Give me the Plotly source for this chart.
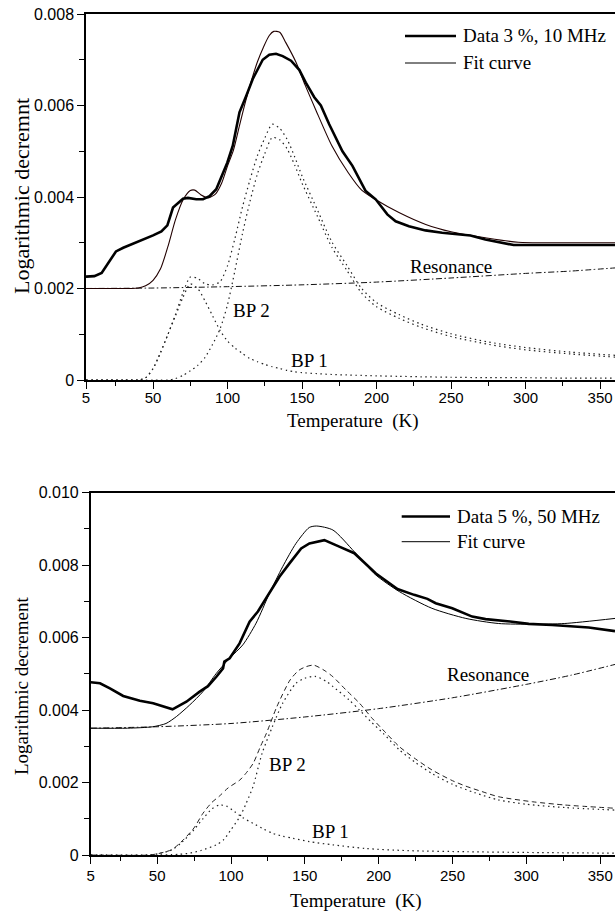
import plotly.graph_objects as go

W, H = 615, 914

# ---------------- top panel: Data 3 %, 10 MHz ----------------
t_data_top = [5, 10.6, 15.5, 19.9, 25.1, 30, 36.6, 45.6, 50, 55.6, 59.6, 63.4, 66.7, 70.1, 73.4,
              79, 83.5, 87.9, 92.4, 96.8, 99.8, 103.5, 108, 112.5, 116.9, 123.6, 128, 132.5, 137,
              142.6, 148.1, 152.5, 158.2, 162.6, 168.2, 177.1, 183.8, 192.7, 199.4, 207.2, 212.8,
              221.7, 232.8, 244, 263, 273, 281.9, 292, 360]
v_data_top = [0.00226, 0.00227, 0.00234, 0.00256, 0.00281, 0.00289, 0.00298, 0.00309, 0.00316, 0.00325,
              0.00338, 0.00377, 0.00387, 0.00396, 0.00398, 0.00395, 0.00395, 0.00402, 0.00417, 0.0045,
              0.00475, 0.00512, 0.00585, 0.00621, 0.00658, 0.007, 0.00711, 0.00713, 0.00708, 0.00698,
              0.00678, 0.0065, 0.00618, 0.006, 0.00559, 0.005, 0.00468, 0.00413, 0.00395, 0.00362,
              0.00347, 0.00336, 0.00327, 0.00322, 0.00316, 0.00307, 0.00301, 0.00295, 0.00295]

t_fit_top = [5, 20, 35, 40, 45, 50, 55, 60, 65, 70, 75, 78, 82, 87, 92, 96, 100, 104, 108, 112, 117,
             120, 124, 128, 131, 135, 139, 146, 152, 159, 170, 181, 190, 199, 215, 233, 250, 273,
             295, 326, 360]
v_fit_top = [0.002, 0.002, 0.002, 0.00201, 0.00206, 0.00218, 0.00243, 0.00292, 0.0035, 0.00393,
             0.00414, 0.00415, 0.00405, 0.00398, 0.00407, 0.0043, 0.00468, 0.00503, 0.00556, 0.00608,
             0.00665, 0.00695, 0.00727, 0.00753, 0.00762, 0.0076, 0.00738, 0.00694, 0.00645, 0.00592,
             0.00512, 0.00453, 0.00415, 0.00395, 0.00366, 0.0034, 0.00324, 0.00311, 0.00301, 0.003,
             0.003]

t_res_top = [5, 50, 100, 150, 200, 250, 300, 330, 360]
v_res_top = [0.002, 0.00201, 0.00204, 0.00208, 0.00214, 0.00223, 0.00233, 0.00238, 0.00245]

t_comp_top = [5, 30, 40, 45, 50, 55, 60, 65, 70, 75, 80, 85, 90, 95, 100, 105, 110, 115, 120, 125,
              130, 135, 140, 145, 150, 160, 170, 180, 190, 200, 215, 230, 250, 275, 300, 330, 360]
v_bp1_top = [0, 0, 0, 0.00005, 0.00025, 0.0006, 0.001, 0.0014, 0.0018, 0.0021, 0.002, 0.00172,
             0.0014, 0.00108, 0.00085, 0.0007, 0.00058, 0.00047, 0.0004, 0.00034, 0.00029, 0.00025,
             0.00021, 0.00018, 0.00016, 0.00014, 0.00012, 0.00011, 0.0001, 0.00009, 0.00008,
             0.00007, 0.00006, 0.00005, 0.00005, 0.00004, 0.00004]
v_bp2_top = [0, 0, 0, 0, 0, 0, 0, 0.00003, 0.0001, 0.0002, 0.00032, 0.0005, 0.00078, 0.00112,
             0.00165, 0.0024, 0.0032, 0.0039, 0.0045, 0.00495, 0.0053, 0.00525, 0.00505, 0.0047,
             0.0043, 0.0036, 0.0029, 0.0024, 0.0019, 0.0016, 0.00135, 0.00115, 0.00095, 0.00078,
             0.00066, 0.00057, 0.0005]
v_sum_top = [0, 0, 0, 0.00005, 0.00025, 0.0006, 0.001, 0.00143, 0.0019, 0.00225, 0.00222, 0.0021,
             0.00208, 0.00215, 0.0025, 0.0031, 0.00378, 0.00437, 0.0049, 0.00529, 0.00559, 0.0055,
             0.00526, 0.00488, 0.00446, 0.00374, 0.00302, 0.00251, 0.002, 0.00169, 0.00143, 0.00122,
             0.00101, 0.00083, 0.00071, 0.00061, 0.00054]

# ---------------- bottom panel: Data 5 %, 50 MHz ----------------
t_data_bot = [5, 11.3, 18, 27, 38.3, 47.3, 60.4, 69.8, 78.8, 84.4, 90.1, 94.6, 95.5, 99.1, 105.8,
              112.6, 118.2, 126.1, 132.8, 139.6, 147.5, 153.1, 163.2, 173.3, 183.5, 198.1, 212.7,
              224, 233, 238.6, 249.8, 263.3, 272.4, 290.3, 301.6, 317.4, 342.2, 360]
v_data_bot = [0.00477, 0.00474, 0.0046, 0.00439, 0.00426, 0.00419, 0.00402, 0.00423, 0.00451, 0.00466,
              0.00492, 0.00515, 0.00534, 0.00543, 0.00584, 0.00644, 0.00672, 0.00722, 0.00768, 0.00805,
              0.00846, 0.0086, 0.00869, 0.00851, 0.00833, 0.00777, 0.00734, 0.00718, 0.00707, 0.00695,
              0.00681, 0.00658, 0.00651, 0.00644, 0.00638, 0.00635, 0.00628, 0.00618]

t_fit_bot = [5, 30, 47, 56, 63, 72, 81, 90, 99, 108, 117, 126, 135, 144, 153, 158, 169, 183.5, 198,
             214, 236, 259, 281, 304, 326, 360]
v_fit_bot = [0.0035, 0.0035, 0.00354, 0.00363, 0.00382, 0.00414, 0.00451, 0.00501, 0.00543, 0.0058,
             0.0064, 0.00722, 0.00796, 0.0086, 0.00904, 0.00908, 0.00897, 0.00837, 0.00773, 0.00727,
             0.00681, 0.00653, 0.00639, 0.00637, 0.00639, 0.00653]

t_res_bot = [5, 50, 100, 150, 200, 250, 300, 330, 360]
v_res_bot = [0.0035, 0.00354, 0.00363, 0.00381, 0.00404, 0.00434, 0.00471, 0.00496, 0.00526]

t_bp1_bot = [5, 45, 52, 60, 67, 75, 81, 87, 92, 97, 101, 108, 115, 122, 128, 135, 142, 153, 169,
             191, 220, 260, 300, 360]
v_bp1_bot = [0, 0, 0.00005, 0.00014, 0.00036, 0.0007, 0.001, 0.00127, 0.00138, 0.00135, 0.00124,
             0.00103, 0.00087, 0.00072, 0.0006, 0.00052, 0.00046, 0.00037, 0.00028, 0.00018, 0.00012,
             0.00009, 0.00007, 0.00005]

t_bp2_bot = [5, 50, 60, 65, 72, 80, 90, 95, 100, 106, 110, 115, 121, 128, 135, 144, 150, 157, 165,
             169, 180, 187, 195, 203, 214, 225, 236, 250, 265, 281, 300, 326, 360]
v_bp2_bot = [0, 0, 0.00001, 0.00002, 0.00005, 0.00013, 0.00028, 0.00042, 0.0007, 0.00106, 0.0014,
             0.0019, 0.0028, 0.00354, 0.00419, 0.00474, 0.00488, 0.00493, 0.00478, 0.00465, 0.00428,
             0.004, 0.00367, 0.00336, 0.0029, 0.00255, 0.00225, 0.00195, 0.00172, 0.00152, 0.0014,
             0.00131, 0.00124]

t_sum_bot = [5, 45, 52, 60, 67.5, 75, 81, 87, 92, 98, 106, 110, 115, 120, 124, 131, 140, 146, 151,
             156, 163, 169, 178, 187, 195, 203, 214, 225, 236, 250, 259, 270, 281, 304, 326, 360]
v_sum_bot = [0, 0, 0.00005, 0.00015, 0.00041, 0.00075, 0.00115, 0.00145, 0.00162, 0.00185, 0.00207,
             0.00225, 0.00253, 0.003, 0.00336, 0.00409, 0.00483, 0.0051, 0.0052, 0.00524, 0.0051,
             0.00492, 0.00455, 0.00419, 0.0038, 0.00345, 0.00299, 0.00265, 0.00235, 0.00205, 0.0019,
             0.00175, 0.00161, 0.00147, 0.00138, 0.00129]

x_ticks = [5, 50, 100, 150, 200, 250, 300, 350]
x_minor = [25, 75, 125, 175, 225, 275, 325]
y_ticks_top = [0, 0.002, 0.004, 0.006, 0.008]
y_text_top = ["0", "0.002", "0.004", "0.006", "0.008"]
y_ticks_bot = [0, 0.002, 0.004, 0.006, 0.008, 0.010]
y_text_bot = ["0", "0.002", "0.004", "0.006", "0.008", "0.010"]

legend_top = ["Data 3 %, 10 MHz", "Fit curve"]
legend_bot = ["Data 5 %, 50 MHz", "Fit curve"]


def px(x):
    return x / W


def py(y):
    return 1 - y / H


SERIF = "Liberation Serif, Times New Roman, serif"
SANS = "Liberation Sans, Arial, sans-serif"

fig = go.Figure()


def add(t, v, xa, ya, color, width, dash="solid", shape="linear"):
    assert len(t) == len(v)
    fig.add_trace(go.Scatter(
        x=t, y=v, xaxis=xa, yaxis=ya, mode="lines", showlegend=False, hoverinfo="skip",
        line=dict(color=color, width=width, dash=dash, shape=shape, smoothing=0.7)))


DOT = "1.5px,3.5px"
DASHDOT = "6px,2.5px,1.5px,2.5px"

# top panel
add(t_res_top, v_res_top, "x", "y", "#111", 1, DASHDOT, "spline")
add(t_comp_top, v_bp1_top, "x", "y", "#222", 1.2, DOT, "spline")
add(t_comp_top, v_bp2_top, "x", "y", "#222", 1.2, DOT, "spline")
add(t_comp_top, v_sum_top, "x", "y", "#222", 1.2, DOT, "spline")
add(t_fit_top, v_fit_top, "x", "y", "#220000", 1.1, "solid", "spline")
add(t_data_top, v_data_top, "x", "y", "#000", 2.6)

# bottom panel
add(t_res_bot, v_res_bot, "x2", "y2", "#111", 1, DASHDOT, "spline")
add(t_bp1_bot, v_bp1_bot, "x2", "y2", "#222", 1.2, DOT, "spline")
add(t_bp2_bot, v_bp2_bot, "x2", "y2", "#222", 1.2, DOT, "spline")
add(t_sum_bot, v_sum_bot, "x2", "y2", "#222", 1, "5px,3.5px", "spline")
add(t_fit_bot, v_fit_bot, "x2", "y2", "#000", 1, "solid", "spline")
add(t_data_bot, v_data_bot, "x2", "y2", "#000", 2.6)

xcommon = dict(
    range=[5, 360], tickmode="array", tickvals=x_ticks, ticktext=[str(v) for v in x_ticks],
    ticks="outside", ticklen=7, tickwidth=1.2, tickcolor="black",
    showline=True, linecolor="black", linewidth=1.5, mirror=True,
    showgrid=False, zeroline=False, automargin=False, ticklabeloverflow="allow",
    tickfont=dict(family=SANS, size=15, color="black"),
    minor=dict(tickmode="array", tickvals=x_minor, ticks="outside", ticklen=4,
               tickwidth=1, tickcolor="black", showgrid=False),
)


def ycommon(top_val, vals, texts):
    return dict(
        range=[0, top_val], tickmode="array", tickvals=vals, ticktext=texts,
        ticks="outside", ticklen=7, tickwidth=1.2, tickcolor="black",
        showline=True, linecolor="black", linewidth=1.5, mirror=False,
        showgrid=False, zeroline=False, automargin=False, ticklabeloverflow="allow",
        tickfont=dict(family=SANS, size=16, color="black"),
        minor=dict(tickmode="array", tickvals=[(a + b) / 2 for a, b in zip(vals[:-1], vals[1:])],
                   ticks="outside", ticklen=5, tickwidth=1, tickcolor="black", showgrid=False),
    )


fig.update_layout(
    width=W, height=H, margin=dict(l=0, r=0, t=0, b=0),
    paper_bgcolor="white", plot_bgcolor="white", showlegend=False,
    xaxis=dict(xcommon, domain=[px(86), 1], anchor="y", ticklabelstandoff=-4),
    yaxis=dict(ycommon(0.008, y_ticks_top, y_text_top), domain=[py(380), py(14)], anchor="x"),
    xaxis2=dict(xcommon, domain=[px(90.7), 1], anchor="y2", ticklabelstandoff=-1),
    yaxis2=dict(ycommon(0.010, y_ticks_bot, y_text_bot), domain=[py(855), py(492.7)], anchor="x2"),
)

ann = []


def text(s, x, y, size=19, angle=0, xanchor="center"):
    ann.append(dict(text=s, x=px(x), y=py(y), xref="paper", yref="paper", showarrow=False,
                    xanchor=xanchor, yanchor="middle", textangle=angle,
                    font=dict(family=SERIF, size=size, color="black")))


# axis titles
text("Logarithmic decremnt", 22, 196, size=22, angle=-90)
text("Temperature  (K)", 353, 421)
text("Logarithmic decrement", 21, 686, angle=-90)
text("Temperature  (K)", 356, 901)

# curve labels
text("Resonance", 451, 266)
text("BP 2", 251, 310)
text("BP 1", 309, 360)
text("Resonance", 488, 674)
text("BP 2", 287.5, 764)
text("BP 1", 330, 831)

# legends (line samples + text)
shapes = []


def legend_row(label, x0, x1, y, width):
    shapes.append(dict(type="line", xref="paper", yref="paper", x0=px(x0), x1=px(x1),
                       y0=py(y), y1=py(y), line=dict(color="black", width=width)))
    text(label, x1 + 5, y, xanchor="left")


legend_row(legend_top[0], 405, 456, 36, 2.6)
legend_row(legend_top[1], 405, 456, 63, 1)
legend_row(legend_bot[0], 401.7, 450, 516.5, 2.6)
legend_row(legend_bot[1], 401.7, 450, 541.7, 1)

fig.update_layout(annotations=ann, shapes=shapes)

fig.write_html("out.html")
